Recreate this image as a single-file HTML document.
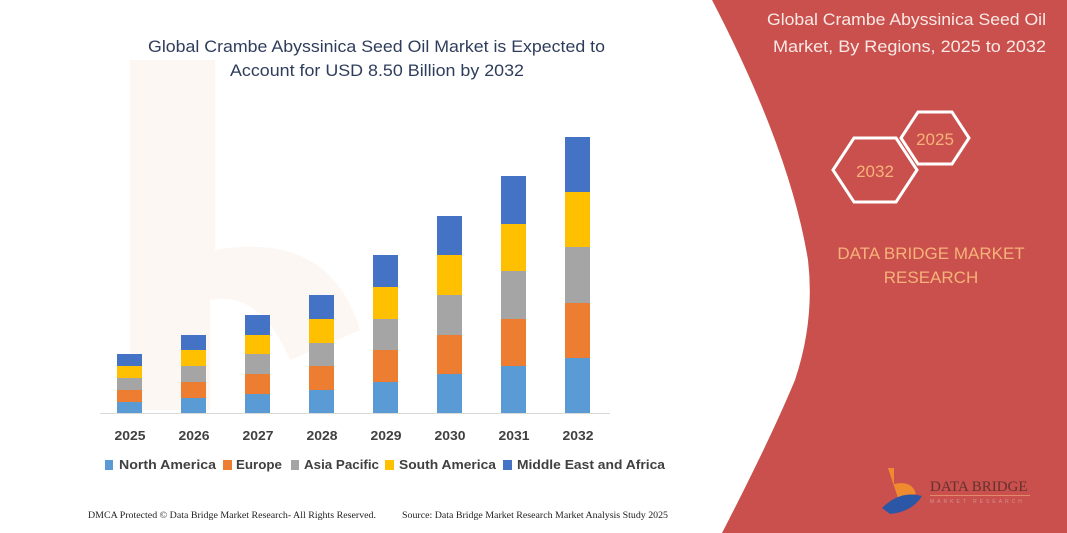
<!DOCTYPE html>
<html><head><meta charset="utf-8"><style>
html,body{margin:0;padding:0;background:#fff;}
svg{display:block;}
</style></head><body>
<svg width="1067" height="533" viewBox="0 0 1067 533" xmlns="http://www.w3.org/2000/svg" font-family="'Liberation Sans', sans-serif">
<rect width="1067" height="533" fill="#ffffff"/>
<g opacity="0.06" fill="#e07a3a"><path d="M130 60 L215 60 L215 250 Q330 230 360 330 L290 360 Q260 290 210 300 L210 410 L130 410 Z"/></g>
<path d="M712 0 L1067 0 L1067 533 L722 533 Q770 440 795 380 Q815 320 808 260 Q790 150 712 0 Z" fill="#c9504c"/>
<text font-size="17" fill="#fbe9e6"><tspan x="767" y="25" textLength="279" lengthAdjust="spacingAndGlyphs">Global Crambe Abyssinica Seed Oil</tspan><tspan x="773" y="52" textLength="273" lengthAdjust="spacingAndGlyphs">Market, By Regions, 2025 to 2032</tspan></text>
<polygon points="901,138 918,112 952,112 969,138 952,164 918,164" fill="none" stroke="#fff" stroke-width="3"/>
<text x="935" y="145" font-size="17" fill="#f7b27a" text-anchor="middle">2025</text>
<polygon points="833,170 854,138 896,138 917,170 896,202 854,202" fill="none" stroke="#fff" stroke-width="3"/>
<text x="875" y="177" font-size="17" fill="#f7b27a" text-anchor="middle">2032</text>
<text font-size="17" fill="#f7b27a" text-anchor="middle"><tspan x="931" y="259">DATA BRIDGE MARKET</tspan><tspan x="931" y="283">RESEARCH</tspan></text>
<path d="M888 468 L894 468 L894 484 Q912 480 916 494 L898 498 Z" fill="#ef8a2e"/>
<path d="M882 508 Q900 490 922 496 Q912 512 890 514 Z" fill="#2c56a6"/>
<text x="930" y="491" font-family="'Liberation Serif', serif" font-size="15" fill="#4a2a2a" opacity="0.8">DATA BRIDGE</text>
<rect x="930" y="495" width="100" height="1" fill="#e08a6a"/>
<text x="930" y="503" font-size="5" fill="#d89090" letter-spacing="3">MARKET RESEARCH</text>
<text font-size="17" fill="#2f3d5c"><tspan x="148" y="52" textLength="457" lengthAdjust="spacingAndGlyphs">Global Crambe Abyssinica Seed Oil Market is Expected to</tspan><tspan x="230" y="76" textLength="294" lengthAdjust="spacingAndGlyphs">Account for USD 8.50 Billion by 2032</tspan></text>
<line x1="100" y1="413.5" x2="610" y2="413.5" stroke="#d9d9d9" stroke-width="1"/>
<g>
<rect x="117" y="402" width="25" height="11" fill="#5b9bd5"/><rect x="117" y="390" width="25" height="12" fill="#ed7d31"/><rect x="117" y="378" width="25" height="12" fill="#a5a5a5"/><rect x="117" y="366" width="25" height="12" fill="#ffc000"/><rect x="117" y="354" width="25" height="12" fill="#4472c4"/>
<rect x="181" y="398" width="25" height="15" fill="#5b9bd5"/><rect x="181" y="382" width="25" height="16" fill="#ed7d31"/><rect x="181" y="366" width="25" height="16" fill="#a5a5a5"/><rect x="181" y="350" width="25" height="16" fill="#ffc000"/><rect x="181" y="335" width="25" height="15" fill="#4472c4"/>
<rect x="245" y="394" width="25" height="19" fill="#5b9bd5"/><rect x="245" y="374" width="25" height="20" fill="#ed7d31"/><rect x="245" y="354" width="25" height="20" fill="#a5a5a5"/><rect x="245" y="335" width="25" height="19" fill="#ffc000"/><rect x="245" y="315" width="25" height="20" fill="#4472c4"/>
<rect x="309" y="390" width="25" height="23" fill="#5b9bd5"/><rect x="309" y="366" width="25" height="24" fill="#ed7d31"/><rect x="309" y="343" width="25" height="23" fill="#a5a5a5"/><rect x="309" y="319" width="25" height="24" fill="#ffc000"/><rect x="309" y="295" width="25" height="24" fill="#4472c4"/>
<rect x="373" y="382" width="25" height="31" fill="#5b9bd5"/><rect x="373" y="350" width="25" height="32" fill="#ed7d31"/><rect x="373" y="319" width="25" height="31" fill="#a5a5a5"/><rect x="373" y="287" width="25" height="32" fill="#ffc000"/><rect x="373" y="255" width="25" height="32" fill="#4472c4"/>
<rect x="437" y="374" width="25" height="39" fill="#5b9bd5"/><rect x="437" y="335" width="25" height="39" fill="#ed7d31"/><rect x="437" y="295" width="25" height="40" fill="#a5a5a5"/><rect x="437" y="255" width="25" height="40" fill="#ffc000"/><rect x="437" y="216" width="25" height="39" fill="#4472c4"/>
<rect x="501" y="366" width="25" height="47" fill="#5b9bd5"/><rect x="501" y="319" width="25" height="47" fill="#ed7d31"/><rect x="501" y="271" width="25" height="48" fill="#a5a5a5"/><rect x="501" y="224" width="25" height="47" fill="#ffc000"/><rect x="501" y="176" width="25" height="48" fill="#4472c4"/>
<rect x="565" y="358" width="25" height="55" fill="#5b9bd5"/><rect x="565" y="303" width="25" height="55" fill="#ed7d31"/><rect x="565" y="247" width="25" height="56" fill="#a5a5a5"/><rect x="565" y="192" width="25" height="55" fill="#ffc000"/><rect x="565" y="137" width="25" height="55" fill="#4472c4"/>
</g>
<g font-size="13" font-weight="bold" fill="#404040" text-anchor="middle">
<text x="130" y="440" textLength="31" lengthAdjust="spacingAndGlyphs">2025</text><text x="194" y="440" textLength="31" lengthAdjust="spacingAndGlyphs">2026</text><text x="258" y="440" textLength="31" lengthAdjust="spacingAndGlyphs">2027</text><text x="322" y="440" textLength="31" lengthAdjust="spacingAndGlyphs">2028</text><text x="386" y="440" textLength="31" lengthAdjust="spacingAndGlyphs">2029</text><text x="450" y="440" textLength="31" lengthAdjust="spacingAndGlyphs">2030</text><text x="514" y="440" textLength="31" lengthAdjust="spacingAndGlyphs">2031</text><text x="578" y="440" textLength="31" lengthAdjust="spacingAndGlyphs">2032</text>
</g>
<g font-size="13" font-weight="bold" fill="#404040">
<rect x="105" y="460" width="8" height="10" fill="#5b9bd5"/><text x="119" y="469" textLength="97" lengthAdjust="spacingAndGlyphs">North America</text>
<rect x="223" y="460" width="9" height="10" fill="#ed7d31"/><text x="236" y="469" textLength="46" lengthAdjust="spacingAndGlyphs">Europe</text>
<rect x="291" y="460" width="8" height="10" fill="#a5a5a5"/><text x="304" y="469" textLength="75" lengthAdjust="spacingAndGlyphs">Asia Pacific</text>
<rect x="385" y="460" width="9" height="10" fill="#ffc000"/><text x="399" y="469" textLength="97" lengthAdjust="spacingAndGlyphs">South America</text>
<rect x="503" y="460" width="9" height="10" fill="#4472c4"/><text x="517" y="469" textLength="148" lengthAdjust="spacingAndGlyphs">Middle East and Africa</text>
</g>
<g font-family="'Liberation Serif', serif" font-size="9" fill="#222">
<text x="88" y="518" textLength="288" lengthAdjust="spacingAndGlyphs">DMCA Protected © Data Bridge Market Research-  All Rights Reserved.</text>
<text x="402" y="518" textLength="266" lengthAdjust="spacingAndGlyphs">Source: Data Bridge Market Research  Market Analysis Study 2025</text>
</g>
</svg>
</body></html>
